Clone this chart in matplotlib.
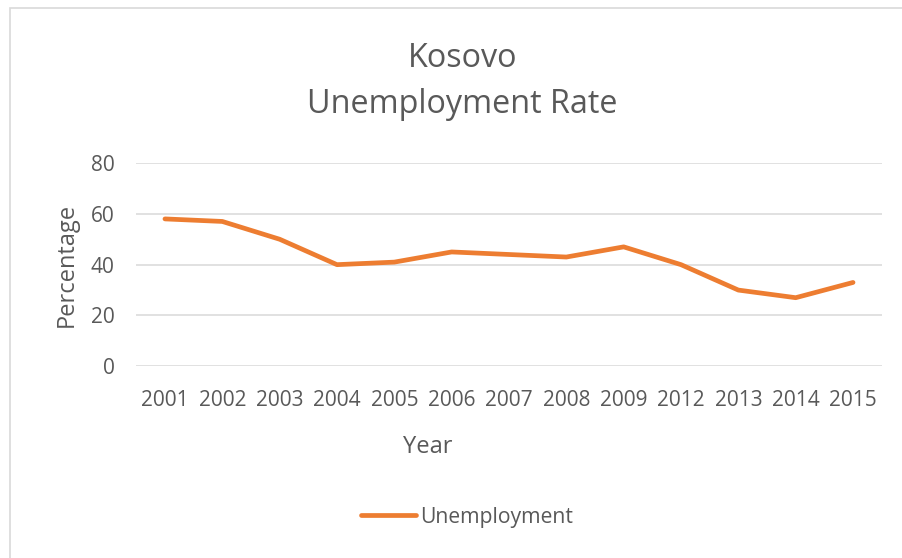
import matplotlib.pyplot as plt
from matplotlib.patches import Rectangle

years = ["2001", "2002", "2003", "2004", "2005", "2006", "2007",
         "2008", "2009", "2012", "2013", "2014", "2015"]
unemployment = [58, 57, 50, 40, 41, 45, 44, 43, 47, 40, 30, 27, 33]
yticks = [0, 20, 40, 60, 80]

text_color = "#595959"
plt.rcParams['font.family'] = ['Open Sans', 'DejaVu Sans']

fig = plt.figure(figsize=(9.02, 5.58), dpi=100)
ax = fig.add_axes([0.1511, 0.3435, 0.8264, 0.3644])

# outer chart frame (only left and top edge show in the reference)
fig.patches.append(Rectangle((9.5 / 902, -0.1), 1.2, 1 - 8 / 558 + 0.1,
                             transform=fig.transFigure, fill=False,
                             edgecolor="#D9D9D9", linewidth=1.2))

x = range(len(years))
ax.plot(x, unemployment, color="#ED7D31", linewidth=3.4,
        solid_capstyle="round", solid_joinstyle="round", label="Unemployment")

ax.set_xlim(-0.5, len(years) - 0.5)
ax.set_ylim(0, 80)
ax.set_yticks(yticks)
ax.set_xticks(list(x))
ax.set_xticklabels(years)
ax.grid(axis="y", color="#D9D9D9", linewidth=1.1)
ax.set_axisbelow(True)
for s in ax.spines.values():
    s.set_visible(False)
ax.tick_params(length=0, labelsize=15, colors=text_color)
ax.tick_params(axis="x", pad=17)
ax.tick_params(axis="y", pad=15.5)

ax.set_ylabel("Percentage", fontsize=17, color=text_color, labelpad=9)
fig.text(428 / 902, 1 - 447 / 558, "Year", ha="center", va="center",
         fontsize=17, color=text_color)

fig.text(0.513, 0.895, "Kosovo", ha="center", va="center",
         fontsize=23.3, color=text_color)
fig.text(0.513, 0.813, "Unemployment Rate", ha="center", va="center",
         fontsize=23.3, color=text_color)

fig.legend(loc="center", bbox_to_anchor=(0.518, 0.073), frameon=False,
           fontsize=15.2, labelcolor=text_color, handlelength=2.6,
           handletextpad=0.2)

fig.savefig("out.png", dpi=100)
